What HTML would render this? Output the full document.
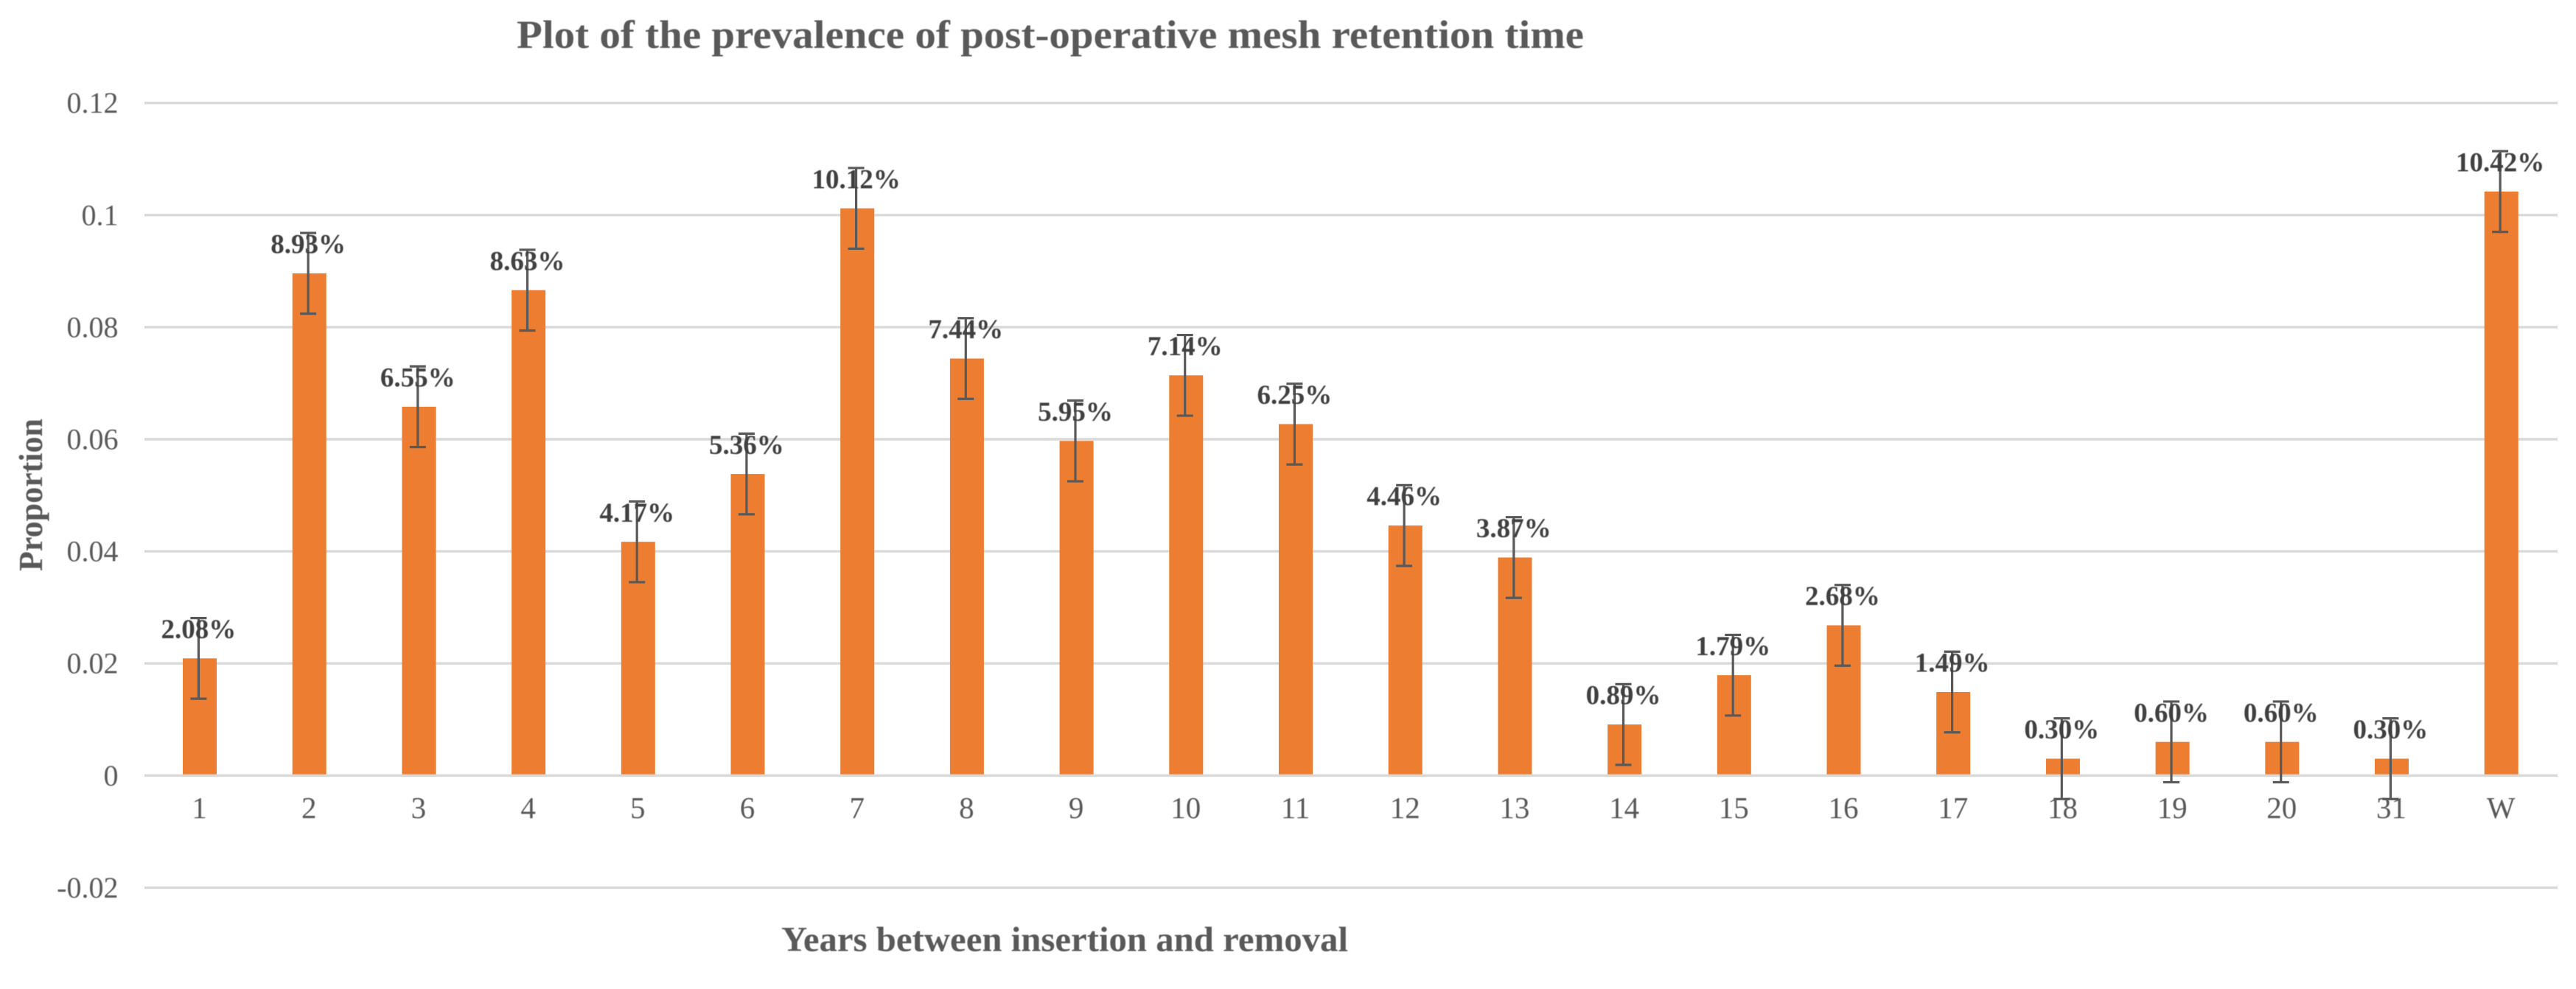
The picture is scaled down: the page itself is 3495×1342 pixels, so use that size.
<!DOCTYPE html>
<html lang="en">
<head>
<meta charset="utf-8">
<title>Plot of the prevalence of post-operative mesh retention time</title>
<style>
html,body{margin:0;padding:0;background:#fff;}
svg{display:block;}
text{font-family:"Liberation Serif",serif;fill:#595959;filter:blur(0.5px);}
</style>
</head>
<body>
<svg id="chart" xmlns="http://www.w3.org/2000/svg" width="3495" height="1342" viewBox="0 0 3495 1342">
<rect x="0" y="0" width="3495" height="1342" fill="#ffffff"/>
<text x="701" y="65" font-size="54" font-weight="bold" textLength="1448" lengthAdjust="spacingAndGlyphs">Plot of the prevalence of post-operative mesh retention time</text>
<text transform="translate(57,671.5) rotate(-90)" text-anchor="middle" font-size="45" font-weight="bold" textLength="207" lengthAdjust="spacingAndGlyphs">Proportion</text>
<text x="1060" y="1290.5" font-size="48" font-weight="bold" textLength="769" lengthAdjust="spacingAndGlyphs">Years between insertion and removal</text>
<g id="grid"></g>
<g id="bars"></g>
<g id="zero"></g>
<g id="errors"></g>
<g id="labels"></g>
<g id="xticks"></g>
<g id="yticks"></g>
</svg>
<script>
const categories = ['1','2','3','4','5','6','7','8','9','10','11','12','13','14','15','16','17','18','19','20','31','W'];
const proportions = [0.0209,0.0896,0.0658,0.0866,0.0417,0.0538,0.1012,0.0744,0.0597,0.0714,0.0627,0.0446,0.0389,0.0091,0.0179,0.0268,0.0149,0.0030,0.0060,0.0060,0.0030,0.1042];
const valueLabels = ['2.08%','8.93%','6.55%','8.63%','4.17%','5.36%','10.12%','7.44%','5.95%','7.14%','6.25%','4.46%','3.87%','0.89%','1.79%','2.68%','1.49%','0.30%','0.60%','0.60%','0.30%','10.42%'];
const errorMargin = [0.0072,0.0072,0.0072,0.0072,0.0072,0.0072,0.0072,0.0072,0.0072,0.0072,0.0072,0.0072,0.0072,0.0072,0.0072,0.0072,0.0072,0.0072,0.0072,0.0072,0.0072,0.0072];
const yTicks = [0.12,0.1,0.08,0.06,0.04,0.02,0,-0.02];

const NS = 'http://www.w3.org/2000/svg';
const gridLeft = 196, gridRight = 3470;
const bandLeft = 196.65, bandStep = 148.7;
const zeroY = 1052.3, pxPerUnit = 152.1 / 0.02;
const barWidth = 46, capWidth = 22;
function xScale(i){ return bandLeft + (i + 0.5) * bandStep; }
function yScale(v){ return zeroY - v * pxPerUnit; }
function make(tag, attrs, parent, text){
  const el = document.createElementNS(NS, tag);
  for (const k in attrs) el.setAttribute(k, attrs[k]);
  if (text !== undefined) el.textContent = text;
  document.getElementById(parent).appendChild(el);
  return el;
}

yTicks.forEach(function(t){
  const isZero = t === 0;
  const line = make('line', {x1: gridLeft, x2: gridRight, y1: yScale(t), y2: yScale(t), stroke: '#d9d9d9', 'stroke-width': 3.4}, isZero ? 'zero' : 'grid');
  
  
  const label = make('text', {x: 160.5, y: yScale(t) + 13.5, 'text-anchor': 'end', 'font-size': 40}, 'yticks', String(t));
  
  
});

categories.forEach(function(c, i){
  const x = xScale(i);
  const v = proportions[i];
  const e = errorMargin[i];

  const bar = make('rect', {x: x - barWidth / 2, y: yScale(v), width: barWidth, height: zeroY - yScale(v), fill: '#ed7d31'}, 'bars');
  
  

  const ex = x - 1.6;
  const stem = make('line', {x1: ex, x2: ex, y1: yScale(v + e), y2: yScale(v - e), stroke: '#595959', 'stroke-width': 3.2}, 'errors');
  
  
  const capTop = make('line', {x1: ex - capWidth / 2, x2: ex + capWidth / 2, y1: yScale(v + e), y2: yScale(v + e), stroke: '#595959', 'stroke-width': 3.2}, 'errors');
  
  
  const capBottom = make('line', {x1: ex - capWidth / 2, x2: ex + capWidth / 2, y1: yScale(v - e), y2: yScale(v - e), stroke: '#595959', 'stroke-width': 3.2}, 'errors');
  
  

  const vl = make('text', {x: ex, y: yScale(v) - 27.4, 'text-anchor': 'middle', 'font-size': 37, 'font-weight': 'bold', style: 'fill:#404040'}, 'labels', valueLabels[i]);
  
  

  const xl = make('text', {x: x - 0.5, y: 1110, 'text-anchor': 'middle', 'font-size': 41}, 'xticks', c);
  
  
});
</script>
</body>
</html>
